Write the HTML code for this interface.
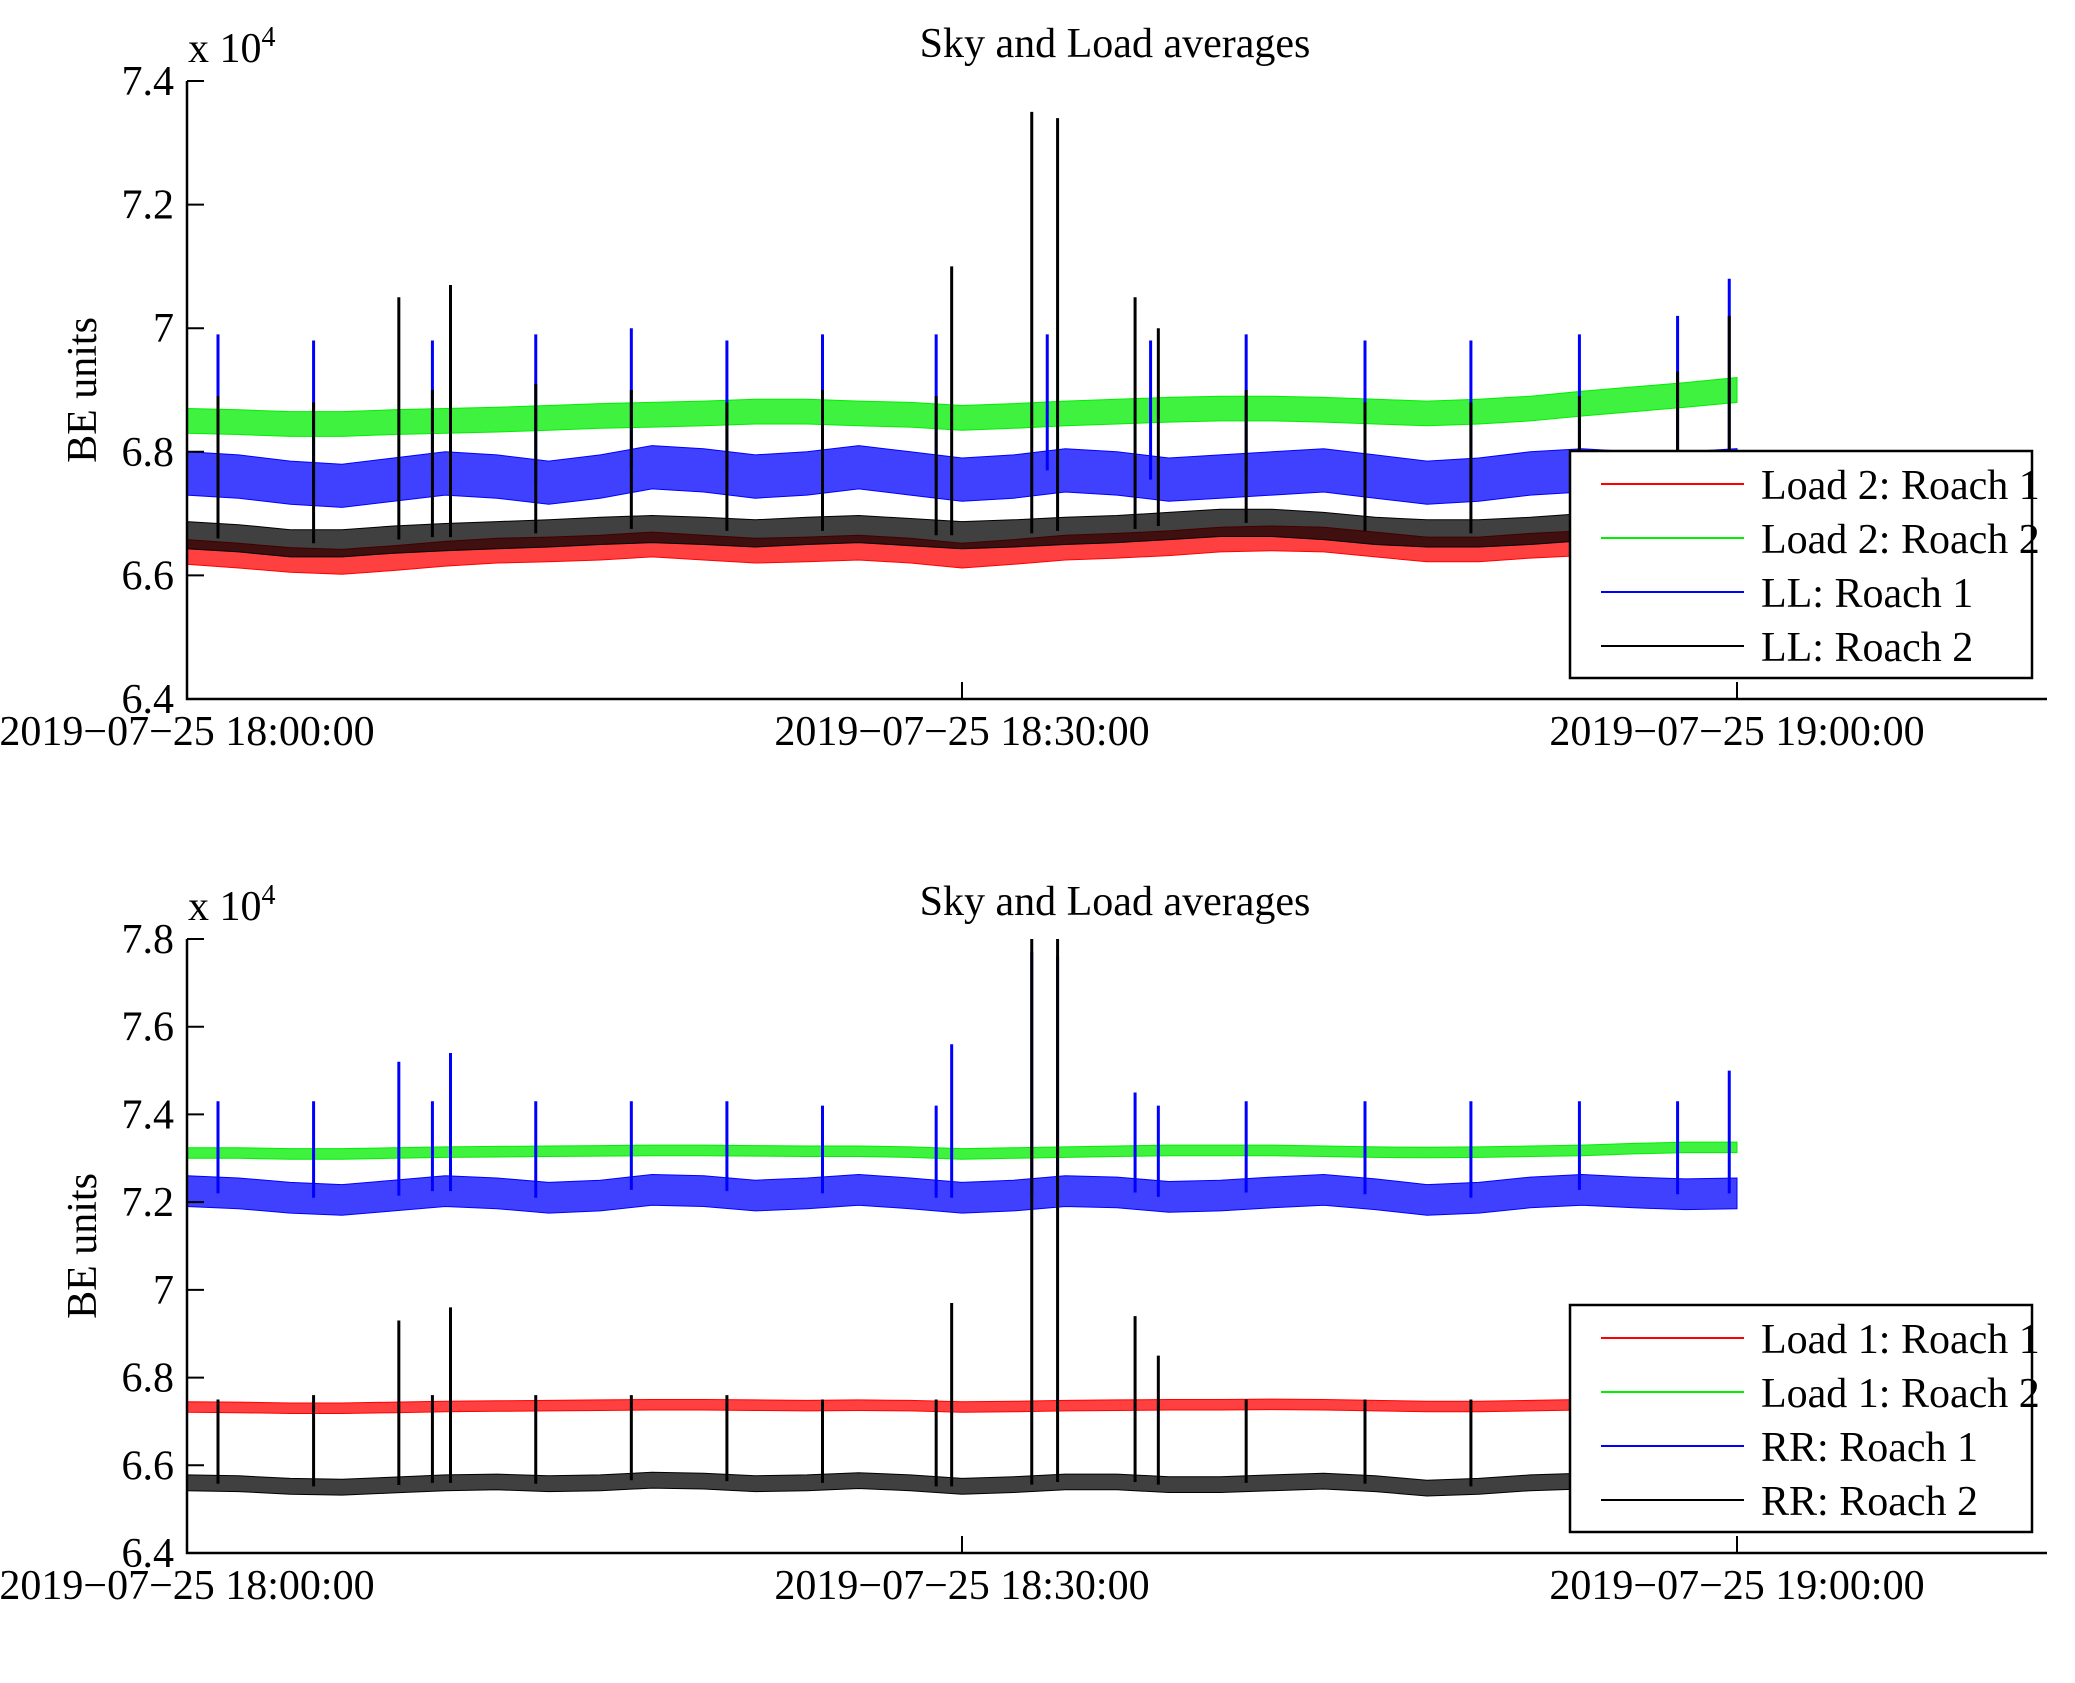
<!DOCTYPE html>
<html><head><meta charset="utf-8"><style>
html,body{margin:0;padding:0;background:#fff}
svg{display:block;font-family:"Liberation Serif",serif}
</style></head><body>
<svg id="fig" width="2075" height="1683" viewBox="0 0 2075 1683"></svg>
<script>
// ---- data (values in units of 1e4, time in minutes after 18:00) ----
const binTimes = [0,2,4,6,8,10,12,14,16,18,20,22,24,26,28,30,32,34,36,38,40,42,44,46,48,50,52,54,56,58,60];
const xTickLabels = ["2019\u221207\u221225 18:00:00","2019\u221207\u221225 18:30:00","2019\u221207\u221225 19:00:00"];
const xTickMinutes = [0,30,60];
const topYTicks = [6.4,6.6,6.8,7,7.2,7.4];
const botYTicks = [6.4,6.6,6.8,7,7.2,7.4,7.6,7.8];

const topRed   = [6.638,6.632,6.625,6.622,6.628,6.635,6.64,6.642,6.645,6.65,6.645,6.64,6.642,6.645,6.64,6.632,6.638,6.645,6.648,6.652,6.658,6.66,6.658,6.65,6.642,6.642,6.648,6.652,6.655,6.655,6.658];
const topGreen = [6.85,6.848,6.845,6.845,6.848,6.85,6.852,6.855,6.858,6.86,6.862,6.865,6.865,6.862,6.86,6.855,6.858,6.862,6.865,6.868,6.87,6.87,6.868,6.865,6.862,6.865,6.87,6.878,6.885,6.892,6.9];
const topBlue  = [6.765,6.76,6.75,6.745,6.755,6.765,6.76,6.75,6.76,6.775,6.77,6.76,6.765,6.775,6.765,6.755,6.76,6.77,6.765,6.755,6.76,6.765,6.77,6.76,6.75,6.755,6.765,6.77,6.765,6.765,6.77];
const topBlack = [6.665,6.66,6.652,6.652,6.658,6.662,6.665,6.668,6.672,6.675,6.672,6.668,6.672,6.675,6.67,6.665,6.668,6.672,6.675,6.68,6.685,6.685,6.68,6.672,6.668,6.668,6.672,6.678,6.682,6.685,6.69];
const topSpread = [0.02,0.02,0.035,0.022];

const botRed   = [6.733,6.732,6.73,6.73,6.732,6.734,6.735,6.736,6.737,6.738,6.738,6.737,6.736,6.737,6.736,6.733,6.734,6.736,6.737,6.738,6.738,6.739,6.738,6.736,6.734,6.734,6.736,6.738,6.739,6.74,6.74];
const botGreen = [7.312,7.312,7.31,7.31,7.312,7.314,7.315,7.316,7.317,7.318,7.318,7.317,7.316,7.316,7.314,7.31,7.312,7.314,7.316,7.318,7.318,7.318,7.316,7.314,7.313,7.314,7.316,7.318,7.322,7.325,7.325];
const botBlue   = [7.225,7.22,7.21,7.205,7.215,7.225,7.22,7.21,7.215,7.228,7.225,7.215,7.22,7.228,7.22,7.21,7.215,7.225,7.222,7.212,7.215,7.222,7.228,7.218,7.205,7.21,7.222,7.228,7.222,7.218,7.22];
const botBlack = [6.56,6.558,6.552,6.55,6.555,6.56,6.562,6.558,6.56,6.566,6.564,6.558,6.56,6.565,6.56,6.552,6.556,6.562,6.562,6.556,6.556,6.56,6.564,6.558,6.548,6.552,6.56,6.564,6.562,6.56,6.562];
const botSpread = [0.012,0.012,0.035,0.018];

const blueSpikeT   = [1.2,4.9,9.5,13.5,17.2,20.9,24.6,29,33.3,37.3,41,45.6,49.7,53.9,57.7,59.7];
const topBlueSpikeV= [6.99,6.98,6.98,6.99,7.0,6.98,6.99,6.99,6.99,6.98,6.99,6.98,6.98,6.99,7.02,7.08];
const topBlackSpikeT=[1.2,4.9,8.2,9.5,10.2,13.5,17.2,20.9,24.6,29,29.6,32.7,33.7,36.7,37.6,41,45.6,49.7,53.9,57.7,59.7];
const topBlackSpikeV=[6.89,6.88,7.05,6.9,7.07,6.91,6.9,6.88,6.9,6.89,7.1,7.35,7.34,7.05,7.0,6.9,6.88,6.88,6.89,6.93,7.02];
const botBlueSpikeT= [1.2,4.9,8.2,9.5,10.2,13.5,17.2,20.9,24.6,29,29.6,32.7,33.7,36.7,37.6,41,45.6,49.7,53.9,57.7,59.7];
const botBlueSpikeV= [7.43,7.43,7.52,7.43,7.54,7.43,7.43,7.43,7.42,7.42,7.56,7.77,7.76,7.45,7.42,7.43,7.43,7.43,7.43,7.43,7.50];
const botBlackSpikeT=[1.2,4.9,8.2,9.5,10.2,13.5,17.2,20.9,24.6,29,29.6,32.7,33.7,36.7,37.6,41,45.6,49.7,53.9,57.7,59.7];
const botBlackSpikeV=[6.75,6.76,6.93,6.76,6.96,6.76,6.76,6.76,6.75,6.75,6.97,7.8,7.8,6.94,6.85,6.75,6.75,6.75,6.75,6.76,6.76];

const colors = ["#ff0000","#00ee00","#0000ff","#000000"];
const NS = "http://www.w3.org/2000/svg";
const svg = document.getElementById("fig");
function mk(tag, attrs, parent){const e=document.createElementNS(NS,tag);for(const k in attrs)e.setAttribute(k,attrs[k]);(parent||svg).appendChild(e);return e;}
const FS = "42";

function drawPanel(p){
  const g = mk("g",{});
  
  
  const X = m => p.x0 + (m - 0) * (p.x1 - p.x0) / 72;
  const Y = v => p.yb + (v - p.ymin) * (p.yt - p.yb) / (p.ymax - p.ymin);
  const series = p.series;
  series.forEach((s,i)=>{
    const sg = mk("g",{},g);
    
    
    let up="",dn="";
    binTimes.forEach((t,k)=>{up+=(k?"L":"M")+X(t).toFixed(1)+","+Y(s.vals[k]+p.spread[i]).toFixed(1);});
    for(let k=binTimes.length-1;k>=0;k--){dn+="L"+X(binTimes[k]).toFixed(1)+","+Y(s.vals[k]-p.spread[i]).toFixed(1);}
    const band = mk("path",{d:up+dn+"Z",fill:colors[i],"fill-opacity":"0.75",stroke:colors[i],"stroke-width":"1"},sg);
    
    
    if(s.spT){
      s.spT.forEach((t,k)=>{
        const idx=Math.min(binTimes.length-1,Math.round(t/2));
        const ln = mk("line",{x1:X(t),x2:X(t),y1:Y(s.vals[idx]),y2:Y(s.spV[k]),stroke:colors[i],"stroke-width":"3"},sg);
        
        
      });
    }
  });
  const ax = mk("path",{d:`M${p.x0},${p.yt}L${p.x0},${p.yb}L${p.x1},${p.yb}`,fill:"none",stroke:"#000","stroke-width":"2.5"},g);
  
  
  p.yticks.forEach(v=>{
    const y=Y(v);
    const t=mk("line",{x1:p.x0,x2:p.x0+17,y1:y,y2:y,stroke:"#000","stroke-width":"2"},g);
    
    
    const lb=mk("text",{x:174,y:y+14,"text-anchor":"end","font-size":FS},g);
    lb.textContent = String(Math.round(v*10)/10);
    
    
  });
  xTickMinutes.forEach((m,k)=>{
    const x=X(m);
    const t=mk("line",{x1:x,x2:x,y1:p.yb,y2:p.yb-17,stroke:"#000","stroke-width":"2"},g);
    
    
    const lb=mk("text",{x:x,y:p.yb+46,"text-anchor":"middle","font-size":FS},g);
    lb.textContent = xTickLabels[k];
    
    
  });
  const ttl=mk("text",{x:1115,y:p.yt-24,"text-anchor":"middle","font-size":FS},g);
  ttl.textContent="Sky and Load averages";
  
  
  const ex=mk("text",{x:188,y:p.yt-19,"font-size":FS},g);
  ex.textContent="x 10";
  
  
  const sup=mk("tspan",{dy:"-16","font-size":"28"},ex);
  sup.textContent="4";
  const yl=mk("text",{x:0,y:0,"text-anchor":"middle","font-size":FS,transform:`translate(96,${(p.yt+p.yb)/2}) rotate(-90)`},g);
  yl.textContent="BE units";
  
  
  const lg=mk("g",{},g);
  
  
  mk("rect",{x:1570,y:p.yb-248,width:462,height:227,fill:"#fff",stroke:"#000","stroke-width":"2.5"},lg);
  const rows=[33,87,141,195];
  series.forEach((s,i)=>{
    const ry=p.yb-248+rows[i];
    const e=mk("g",{},lg);
    
    
    mk("line",{x1:1601,x2:1744,y1:ry,y2:ry,stroke:colors[i],"stroke-width":"2"},e);
    const tx=mk("text",{x:1761,y:ry+15,"font-size":FS},e);
    tx.textContent=s.label;
  });
}

drawPanel({name:"top-panel",x0:187,x1:2047,yt:81,yb:699,ymin:6.4,ymax:7.4,yticks:topYTicks,spread:topSpread,
  series:[{label:"Load 2: Roach 1",vals:topRed},{label:"Load 2: Roach 2",vals:topGreen},
          {label:"LL: Roach 1",vals:topBlue,spT:blueSpikeT,spV:topBlueSpikeV},
          {label:"LL: Roach 2",vals:topBlack,spT:topBlackSpikeT,spV:topBlackSpikeV}]});
drawPanel({name:"bottom-panel",x0:187,x1:2047,yt:939,yb:1553,ymin:6.4,ymax:7.8,yticks:botYTicks,spread:botSpread,
  series:[{label:"Load 1: Roach 1",vals:botRed},{label:"Load 1: Roach 2",vals:botGreen},
          {label:"RR: Roach 1",vals:botBlue,spT:botBlueSpikeT,spV:botBlueSpikeV},
          {label:"RR: Roach 2",vals:botBlack,spT:botBlackSpikeT,spV:botBlackSpikeV}]});
</script>
</body></html>
